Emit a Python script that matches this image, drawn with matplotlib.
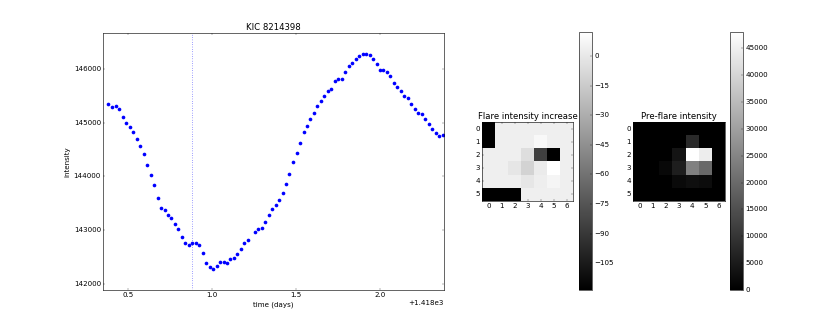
import numpy as np
import matplotlib
matplotlib.use('Agg')
import matplotlib.pyplot as plt
from matplotlib.ticker import ScalarFormatter

plt.style.use('classic')

# light curve (days after 1418)
time_offset = 1418
time_days = [0.381, 0.403, 0.425, 0.446, 0.466, 0.488, 0.508, 0.530, 0.550, 0.571,
             0.591, 0.613, 0.633, 0.653, 0.675, 0.694, 0.716, 0.736, 0.756, 0.778,
             0.798, 0.819, 0.839, 0.859, 0.881, 0.901, 0.923, 0.942, 0.964, 0.984,
             1.004, 1.026, 1.046, 1.067, 1.087, 1.107, 1.129, 1.149, 1.171, 1.190,
             1.212, 1.252, 1.274, 1.294, 1.313, 1.335, 1.355, 1.377, 1.397, 1.419,
             1.438, 1.458, 1.480, 1.502, 1.522, 1.544, 1.563, 1.583, 1.605, 1.625,
             1.647, 1.667, 1.687, 1.708, 1.728, 1.750, 1.770, 1.792, 1.812, 1.833,
             1.853, 1.875, 1.895, 1.915, 1.937, 1.956, 1.978, 1.998, 2.018, 2.040,
             2.060, 2.081, 2.101, 2.121, 2.143, 2.163, 2.185, 2.204, 2.226, 2.246,
             2.266, 2.288, 2.308, 2.329, 2.349, 2.371]
intensity = [145347, 145297, 145310, 145266, 145104, 145005, 144918, 144824, 144706, 144563,
             144420, 144215, 144028, 143835, 143605, 143406, 143381, 143282, 143232, 143114,
             143014, 142871, 142759, 142715, 142759, 142759, 142722, 142572, 142392, 142311,
             142280, 142330, 142398, 142411, 142392, 142467, 142479, 142547, 142647, 142759,
             142821, 142958, 143020, 143033, 143157, 143282, 143387, 143462, 143555, 143692,
             143860, 144040, 144277, 144445, 144625, 144830, 144949, 145067, 145179, 145316,
             145403, 145509, 145589, 145627, 145776, 145813, 145820, 145956, 146056, 146124,
             146199, 146255, 146280, 146280, 146274, 146187, 146100, 145988, 145981, 145944,
             145869, 145739, 145664, 145596, 145496, 145459, 145359, 145266, 145185, 145173,
             145079, 144986, 144880, 144812, 144756, 144768]
flare_time = 0.880

# pixel images (6 rows x 7 cols)
flare_increase = [
    [-118.7, 4.0, 4.0, 4.0, 4.0, 4.0, 4.0],
    [-118.7, 4.0, 4.0, 4.0, 8.5, 4.0, 4.0],
    [4.0, 4.0, 4.0, -5.0, -86.0, -118.7, 4.0],
    [4.0, 4.0, -1.0, -10.0, 1.5, 12.2, 4.0],
    [4.0, 4.0, 4.0, -1.0, 3.0, 7.0, 4.0],
    [-118.7, -118.7, -118.7, 4.0, 4.0, 4.0, 4.0],
]
preflare = [
    [0, 0, 0, 0, 0, 0, 0],
    [0, 0, 0, 0, 8000, 0, 0],
    [0, 0, 0, 3800, 48000, 44600, 0],
    [0, 0, 1500, 5800, 24000, 20000, 0],
    [0, 0, 0, 2000, 2900, 2400, 0],
    [0, 0, 0, 0, 0, 0, 0],
]

dpi = 42.5
fig = plt.figure(figsize=(830 / dpi, 332 / dpi), dpi=dpi, facecolor='white')

ax = fig.add_axes([0.1245, 0.1265, 0.4105, 0.7732])
ax.plot(np.array(time_days) + time_offset, intensity, 'o', color='b', ms=6.2, mew=0)
ax.axvline(time_offset + flare_time, color='b', ls=':', lw=1)
ax.set_xlim(time_offset + 0.351, time_offset + 2.379)
ax.set_ylim(141882, 146672)
ax.set_xticks([time_offset + v for v in [0.5, 1.0, 1.5, 2.0]])
ax.set_yticks([142000, 143000, 144000, 145000, 146000])
ax.xaxis.set_major_formatter(ScalarFormatter(useOffset=time_offset))
ax.yaxis.set_major_formatter(ScalarFormatter(useOffset=False))
ax.set_xlabel('time (days)')
ax.set_ylabel('intensity')
ax.set_title('KIC 8214398')

ax1 = fig.add_axes([0.5811, 0.3955, 0.1096, 0.2361])
im1 = ax1.imshow(np.array(flare_increase), cmap='gray', interpolation='nearest', aspect='auto')
ax1.set_title('Flare intensity increase')
ax1.set_xticks(range(7))
ax1.set_yticks(range(6))
cax1 = fig.add_axes([0.6972, 0.1265, 0.0157, 0.7762])
cb1 = fig.colorbar(im1, cax=cax1)
cb1.set_ticks(list(range(-105, 1, 15)))

ax2 = fig.add_axes([0.7630, 0.3955, 0.1105, 0.2361])
im2 = ax2.imshow(np.array(preflare), cmap='gray', interpolation='nearest', aspect='auto')
ax2.set_title('Pre-flare intensity')
ax2.set_xticks(range(7))
ax2.set_yticks(range(6))
cax2 = fig.add_axes([0.8795, 0.1265, 0.0160, 0.7762])
cb2 = fig.colorbar(im2, cax=cax2)
cb2.set_ticks(list(range(0, 45001, 5000)))

fig.savefig('out.png', dpi=dpi, facecolor='white')
